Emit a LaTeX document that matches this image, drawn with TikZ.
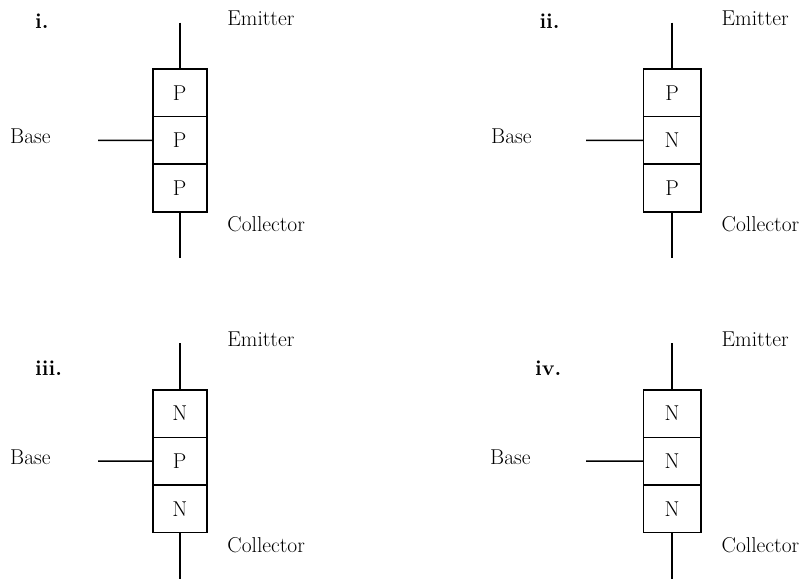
\documentclass[tikz,border=0pt]{standalone}
\begin{document}
\begin{tikzpicture}[x=1pt,y=-1pt,
  every node/.style={font=\fontsize{21.5}{25}\selectfont},
  layer/.style={draw, line width=1.6pt, minimum height=47.6pt, inner sep=0pt, outer sep=0pt, anchor=north},
  lead/.style={line width=1.6pt},
  lbl/.style={anchor=base west, inner sep=0pt},
  num/.style={anchor=base west, inner sep=0pt, font=\fontsize{21.5}{25}\selectfont\bfseries}]
\useasboundingbox (0,0) rectangle (808,578);
\foreach \id/\xl/\xr/\dy/\a/\b/\c/\num/\nx/\ny/\bx/\bl in {
  i/152.7/206.7/0/P/P/P/i./35/28.3/10/98,
  ii/643.3/701/0/P/N/P/ii./539.3/28.3/491/586,
  iii/152.7/206.7/320.7/N/P/N/iii./35/375/10/98,
  iv/643.3/701/320.7/N/N/N/iv./535/375/490/586}{
  \pgfmathsetmacro\xc{(\xl+\xr)/2}
  \pgfmathsetmacro\w{\xr-\xl}
  \node[layer, minimum width=\w pt] (\id-top) at (\xc,69+\dy) {\a};
  \node[layer, minimum width=\w pt] (\id-mid) at (\id-top.south) {\b};
  \node[layer, minimum width=\w pt] (\id-bot) at (\id-mid.south) {\c};
  \coordinate (\id-e) at (\xc,22.7+\dy);
  \coordinate (\id-cl) at (\xc,258+\dy);
  \coordinate (\id-b) at (\bl,140.4+\dy);
  \draw[lead] (\id-e) -- (\id-top.north);
  \draw[lead] (\id-bot.south) -- (\id-cl);
  \draw[lead] (\id-b) -- (\id-mid.west);
  \node[lbl] (\id-et) at (\xr+20.5,26+\dy) {Emitter};
  \node[lbl] (\id-ct) at (\xr+20.5,231.6+\dy) {Collector};
  \node[lbl] (\id-bt) at (\bx,143.4+\dy) {Base};
  \node[num] (\id-n) at (\nx,\ny) {\num};
}
\end{tikzpicture}
\end{document}
